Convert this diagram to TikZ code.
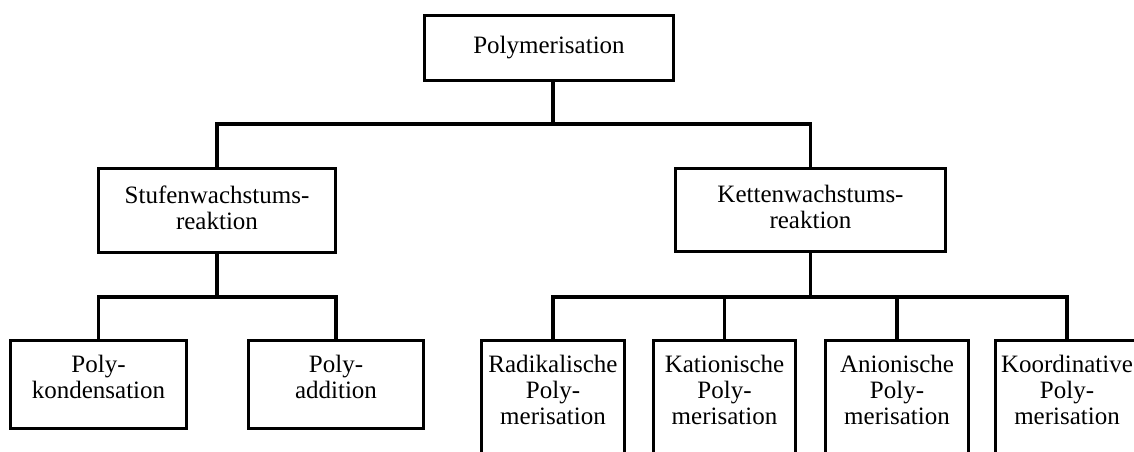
\documentclass[tikz,border=0pt]{standalone}
\usepackage{fontspec}
\setmainfont{Liberation Serif}
\begin{document}
\begin{tikzpicture}[x=1pt,y=-1pt,line width=3.5pt,
  box/.style={draw,line width=3.5pt,inner sep=0pt},
  lbl/.style={anchor=north,inner sep=0pt,align=center,font=\fontsize{25}{26}\selectfont},
  conn/.style={line width=3.5pt}]
\useasboundingbox (0,0) rectangle (1134,451);
\clip (0,0) rectangle (1134,451);
% boxes
\node[box,minimum width=249pt,minimum height=65pt] (top) at (549,48) {};
\node[box,minimum width=237pt,minimum height=84pt] (stufen) at (217,210.5) {};
\node[box,minimum width=270pt,minimum height=83pt] (ketten) at (810.5,210) {};
\node[box,minimum width=176pt,minimum height=88pt] (pk) at (98.5,384.5) {};
\node[box,minimum width=175pt,minimum height=88pt] (pa) at (336,384.5) {};
\node[box,minimum width=143pt,minimum height=130pt] (rad) at (553,405.5) {};
\node[box,minimum width=142pt,minimum height=130pt] (kat) at (724.5,405.5) {};
\node[box,minimum width=143pt,minimum height=130pt] (ani) at (897,405.5) {};
\node[box,minimum width=143pt,minimum height=130pt] (koo) at (1067,405.5) {};
% texts
\node[lbl] (ttop) at ([yshift=-21pt]top.north) {Polymerisation};
\node[lbl] (tstufen) at ([yshift=-17pt]stufen.north) {Stufenwachstums-\\reaktion};
\node[lbl] (tketten) at ([yshift=-17pt]ketten.north) {Kettenwachstums-\\reaktion};
\node[lbl] (tpk) at ([yshift=-15pt]pk.north) {Poly-\\kondensation};
\node[lbl] (tpa) at ([yshift=-15pt]pa.north) {Poly-\\addition};
\node[lbl] (trad) at ([yshift=-15pt]rad.north) {Radikalische\\Poly-\\merisation};
\node[lbl] (tkat) at ([yshift=-15pt]kat.north) {Kationische\\Poly-\\merisation};
\node[lbl] (tani) at ([yshift=-15pt]ani.north) {Anionische\\Poly-\\merisation};
\node[lbl] (tkoo) at ([yshift=-15pt]koo.north) {Koordinative\\Poly-\\merisation};
% connectors
\coordinate (j1) at (553,124);
\coordinate (j2) at (217,297);
\coordinate (j3) at (810.5,297);
\draw[conn] (j1 |- top.south) -- (j1);
\draw[conn] (stufen.north) |- (j1) -| (ketten.north);
\draw[conn] (stufen.south) -- (j2);
\draw[conn] (pk.north) |- (j2) -| (pa.north);
\draw[conn] (ketten.south) -- (j3);
\draw[conn] (rad.north) |- (j3) -| (koo.north);
\draw[conn] (kat.north) -- (kat.north |- j3);
\draw[conn] (ani.north) -- (ani.north |- j3);
\end{tikzpicture}
\end{document}
